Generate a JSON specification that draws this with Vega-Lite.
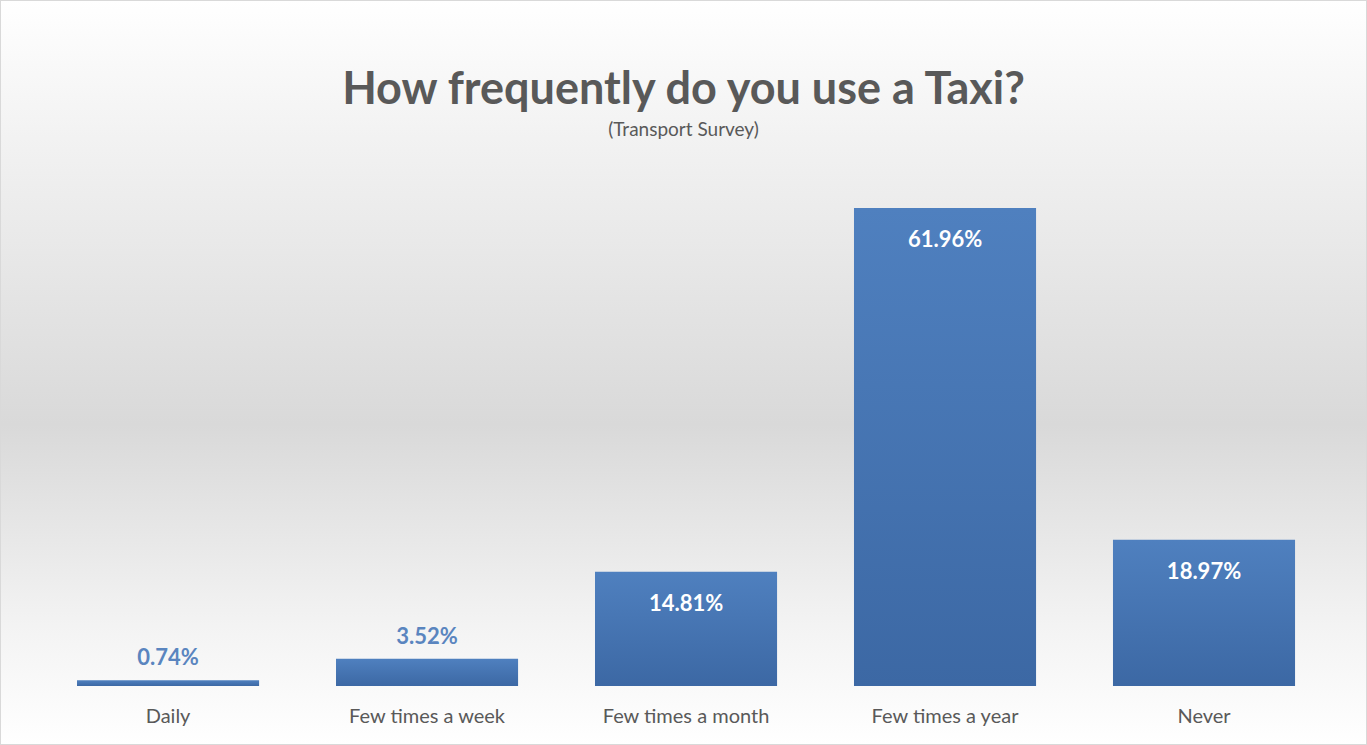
{
  "$schema": "https://vega.github.io/schema/vega-lite/v6.json",
  "autosize": "none",
  "width": 1367,
  "height": 745,
  "padding": 0,
  "background": "white",
  "title": {
    "text": "How frequently do you use a Taxi?",
    "subtitle": "(Transport Survey)",
    "anchor": "middle",
    "font": "Lato",
    "fontSize": 45,
    "fontWeight": "bold",
    "color": "#595959",
    "subtitleFont": "Lato",
    "subtitleFontSize": 19,
    "subtitleColor": "#595959",
    "subtitlePadding": 8,
    "offset": -140
  },
  "config": {
    "view": {
      "stroke": "#d9d9d9",
      "strokeWidth": 2,
      "fill": {
        "gradient": "linear", "x1": 0, "y1": 0, "x2": 0, "y2": 1,
        "stops": [
          {"offset": 0, "color": "#ffffff"},
          {"offset": 0.2, "color": "#f1f1f1"},
          {"offset": 0.57, "color": "#d9d9d9"},
          {"offset": 0.84, "color": "#f3f3f3"},
          {"offset": 1, "color": "#ffffff"}
        ]
      }
    },
    "font": "Lato"
  },
  "data": {
    "values": [
      {"category": "Daily", "pct": 0.0074},
      {"category": "Few times a week", "pct": 0.0352},
      {"category": "Few times a month", "pct": 0.1481},
      {"category": "Few times a year", "pct": 0.6196},
      {"category": "Never", "pct": 0.1897}
    ]
  },
  "encoding": {
    "x": {
      "field": "category",
      "type": "nominal",
      "sort": null,
      "scale": {"paddingInner": 0.297, "paddingOuter": 0.2876, "align": 0.517},
      "axis": null
    }
  },
  "layer": [
    {
      "mark": {
        "type": "bar",
        "color": {
          "gradient": "linear", "x1": 0, "y1": 0, "x2": 0, "y2": 1,
          "stops": [
            {"offset": 0, "color": "#4f80bf"},
            {"offset": 1, "color": "#3c68a4"}
          ]
        }
      },
      "encoding": {
        "y": {
          "field": "pct",
          "type": "quantitative",
          "scale": {"domain": [-0.0765, 0.8892], "nice": false, "zero": false},
          "axis": null
        }
      }
    },
    {
      "transform": [{"filter": "datum.pct >= 0.1"}],
      "mark": {"type": "text", "baseline": "middle", "dy": 32, "color": "white", "fontWeight": "bold", "fontSize": 22, "font": "Lato"},
      "encoding": {
        "y": {"field": "pct", "type": "quantitative"},
        "text": {"field": "pct", "type": "quantitative", "format": ".2%"}
      }
    },
    {
      "transform": [{"filter": "datum.pct < 0.1"}],
      "mark": {"type": "text", "baseline": "middle", "dy": -22, "color": "#5a85bf", "fontWeight": "bold", "fontSize": 22, "font": "Lato"},
      "encoding": {
        "y": {"field": "pct", "type": "quantitative"},
        "text": {"field": "pct", "type": "quantitative", "format": ".2%"}
      }
    },
    {
      "mark": {"type": "text", "baseline": "middle", "dy": 31, "color": "#595959", "fontSize": 20, "font": "Lato"},
      "encoding": {
        "y": {"datum": 0, "type": "quantitative"},
        "text": {"field": "category", "type": "nominal"}
      }
    }
  ]
}
